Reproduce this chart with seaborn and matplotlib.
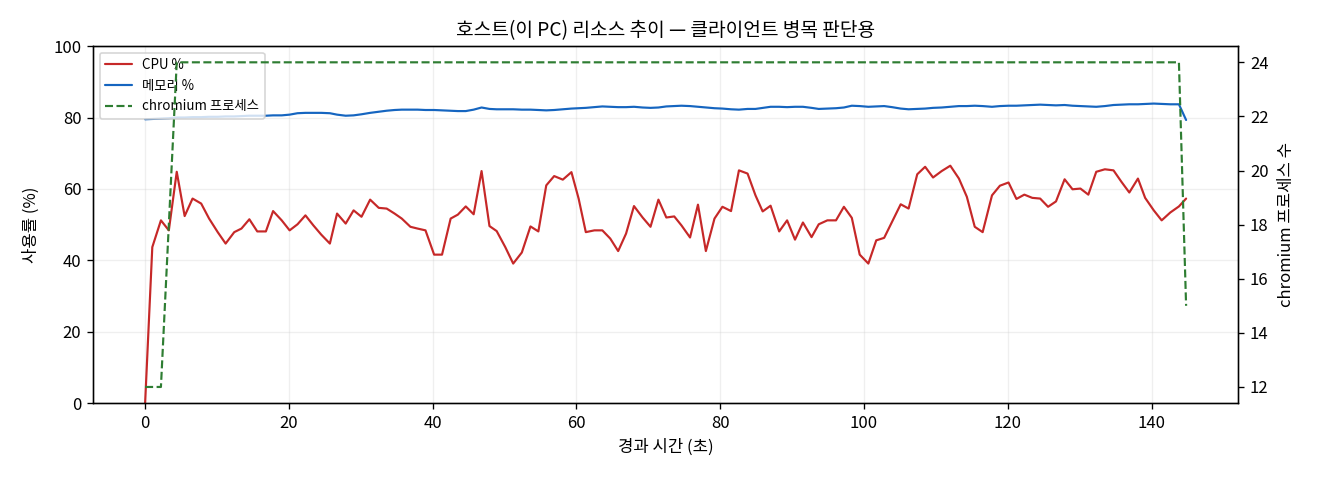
import numpy as np
import pandas as pd
import matplotlib
matplotlib.use("Agg")
import matplotlib.pyplot as plt
import seaborn as sns

##### Data

elapsed_sec = [
    0.0, 1.0, 2.2, 3.3, 4.4, 5.5, 6.6, 7.8, 8.9, 10.1,
    11.2, 12.4, 13.4, 14.5, 15.6, 16.8, 17.8, 19.0, 20.1, 21.2,
    22.3, 23.4, 24.5, 25.7, 26.7, 27.9, 29.0, 30.1, 31.3, 32.5,
    33.6, 34.7, 35.7, 36.9, 37.9, 39.0, 40.2, 41.3, 42.5, 43.5,
    44.6, 45.7, 46.8, 47.9, 48.9, 50.1, 51.2, 52.4, 53.6, 54.7,
    55.8, 56.9, 58.1, 59.3, 60.3, 61.3, 62.5, 63.6, 64.7, 65.8,
    66.9, 68.0, 69.2, 70.3, 71.4, 72.5, 73.6, 74.6, 75.8, 76.9,
    78.0, 79.2, 80.3, 81.5, 82.6, 83.8, 84.9, 85.9, 87.0, 88.2,
    89.3, 90.4, 91.5, 92.7, 93.7, 94.9, 96.1, 97.2, 98.3, 99.4,
    100.6, 101.7, 102.8, 103.9, 105.1, 106.2, 107.4, 108.5, 109.6, 110.8,
    112.0, 113.2, 114.3, 115.4, 116.5, 117.8, 118.9, 120.1, 121.2, 122.3,
    123.4, 124.5, 125.6, 126.7, 127.9, 129.0, 130.1, 131.2, 132.3, 133.5,
    134.7, 135.8, 136.9, 138.1, 139.1, 140.3, 141.4, 142.6, 143.8, 144.8,
]

cpu_pct = [
    0.0, 43.7, 51.2, 48.4, 64.8, 52.4, 57.3, 55.9, 51.7, 47.9,
    44.7, 47.9, 48.9, 51.5, 48.1, 48.1, 53.8, 51.2, 48.4, 50.1,
    52.6, 49.8, 47.2, 44.7, 53.1, 50.3, 54.0, 52.2, 57.0, 54.7,
    54.5, 53.1, 51.7, 49.4, 48.9, 48.4, 41.6, 41.6, 51.7, 52.8,
    55.1, 52.9, 65.0, 49.6, 48.2, 43.7, 39.1, 42.2, 49.5, 48.1,
    61.0, 63.6, 62.6, 64.7, 57.3, 47.9, 48.4, 48.4, 46.1, 42.6,
    47.5, 55.2, 52.0, 49.4, 57.0, 52.0, 52.3, 49.8, 46.4, 55.6,
    42.6, 51.7, 55.0, 53.8, 65.2, 64.3, 58.2, 53.7, 55.3, 48.1,
    51.2, 45.8, 50.6, 46.5, 50.1, 51.2, 51.2, 55.0, 51.9, 41.6,
    39.1, 45.6, 46.3, 50.8, 55.7, 54.5, 64.1, 66.2, 63.2, 65.0,
    66.5, 62.9, 57.8, 49.4, 47.9, 58.2, 60.9, 61.8, 57.2, 58.4,
    57.5, 57.3, 55.0, 56.5, 62.7, 59.9, 60.1, 58.4, 64.8, 65.5,
    65.2, 62.0, 59.0, 62.9, 57.5, 54.0, 51.2, 53.4, 55.1, 57.3,
]

mem_pct = [
    79.5, 79.6, 79.7, 79.8, 80.0, 80.0, 80.1, 80.1, 80.2, 80.2,
    80.3, 80.3, 80.4, 80.5, 80.5, 80.5, 80.6, 80.6, 80.8, 81.2,
    81.3, 81.3, 81.3, 81.2, 80.8, 80.5, 80.6, 80.9, 81.3, 81.6,
    81.9, 82.1, 82.2, 82.2, 82.2, 82.1, 82.1, 82.0, 81.9, 81.8,
    81.8, 82.2, 82.8, 82.4, 82.3, 82.3, 82.3, 82.2, 82.2, 82.1,
    82.0, 82.1, 82.3, 82.5, 82.6, 82.7, 82.9, 83.1, 83.0, 82.9,
    82.9, 83.0, 82.8, 82.7, 82.8, 83.1, 83.2, 83.3, 83.2, 83.0,
    82.8, 82.6, 82.5, 82.3, 82.2, 82.4, 82.4, 82.7, 83.0, 83.0,
    82.9, 83.0, 83.0, 82.7, 82.4, 82.5, 82.6, 82.8, 83.3, 83.2,
    83.0, 83.1, 83.2, 82.9, 82.5, 82.3, 82.4, 82.5, 82.7, 82.8,
    83.0, 83.2, 83.2, 83.3, 83.2, 83.0, 83.2, 83.3, 83.3, 83.4,
    83.5, 83.6, 83.5, 83.4, 83.5, 83.3, 83.2, 83.1, 83.0, 83.2,
    83.5, 83.6, 83.7, 83.7, 83.8, 83.9, 83.8, 83.7, 83.7, 79.3,
]

chromium_procs = [12, 12, 12, 18] + [24] * 125 + [15]

df = pd.DataFrame({
    "elapsed": elapsed_sec,
    "cpu": cpu_pct,
    "mem": mem_pct,
    "procs": chromium_procs,
})

##### Fonts

sns.set_style("ticks")
plt.rcParams["font.family"] = ["Noto Sans CJK KR", "DejaVu Sans"]
plt.rcParams["axes.unicode_minus"] = False
plt.rcParams["axes.edgecolor"] = "black"
plt.rcParams["text.color"] = "black"
plt.rcParams["axes.labelcolor"] = "black"
plt.rcParams["xtick.color"] = "black"
plt.rcParams["ytick.color"] = "black"

##### Plot

fig, ax1 = plt.subplots(figsize=(11, 4), dpi=120)
fig.subplots_adjust(left=0.0705, right=0.938, top=0.904, bottom=0.160)

sns.lineplot(data=df, x="elapsed", y="cpu", ax=ax1, color="#c62828",
             linewidth=1.3, label="CPU %", estimator=None, legend=False)
sns.lineplot(data=df, x="elapsed", y="mem", ax=ax1, color="#1565c0",
             linewidth=1.3, label="메모리 %", estimator=None, legend=False)
ax1.set_ylim(0, 100)
ax1.set_xlabel("경과 시간 (초)", fontsize=10)
ax1.set_ylabel("사용률 (%)", fontsize=10, labelpad=8)
ax1.grid(True, alpha=0.3)
ax1.tick_params(labelsize=10)

ax2 = ax1.twinx()
sns.lineplot(data=df, x="elapsed", y="procs", ax=ax2, color="#2e7d32",
             linewidth=1.3, linestyle="--", label="chromium 프로세스",
             estimator=None, legend=False)
ax2.set_ylabel("chromium 프로세스 수", fontsize=10, labelpad=6)
ax2.tick_params(labelsize=10)
ax2.grid(False)

lines = ax1.get_lines() + ax2.get_lines()
labels = ["CPU %", "메모리 %", "chromium 프로세스"]
ax1.legend(lines, labels, loc="upper left", fontsize=8)

ax1.set_title("호스트(이 PC) 리소스 추이 — 클라이언트 병목 판단용", fontsize=11.5)

plt.savefig("out.png", dpi=120)
